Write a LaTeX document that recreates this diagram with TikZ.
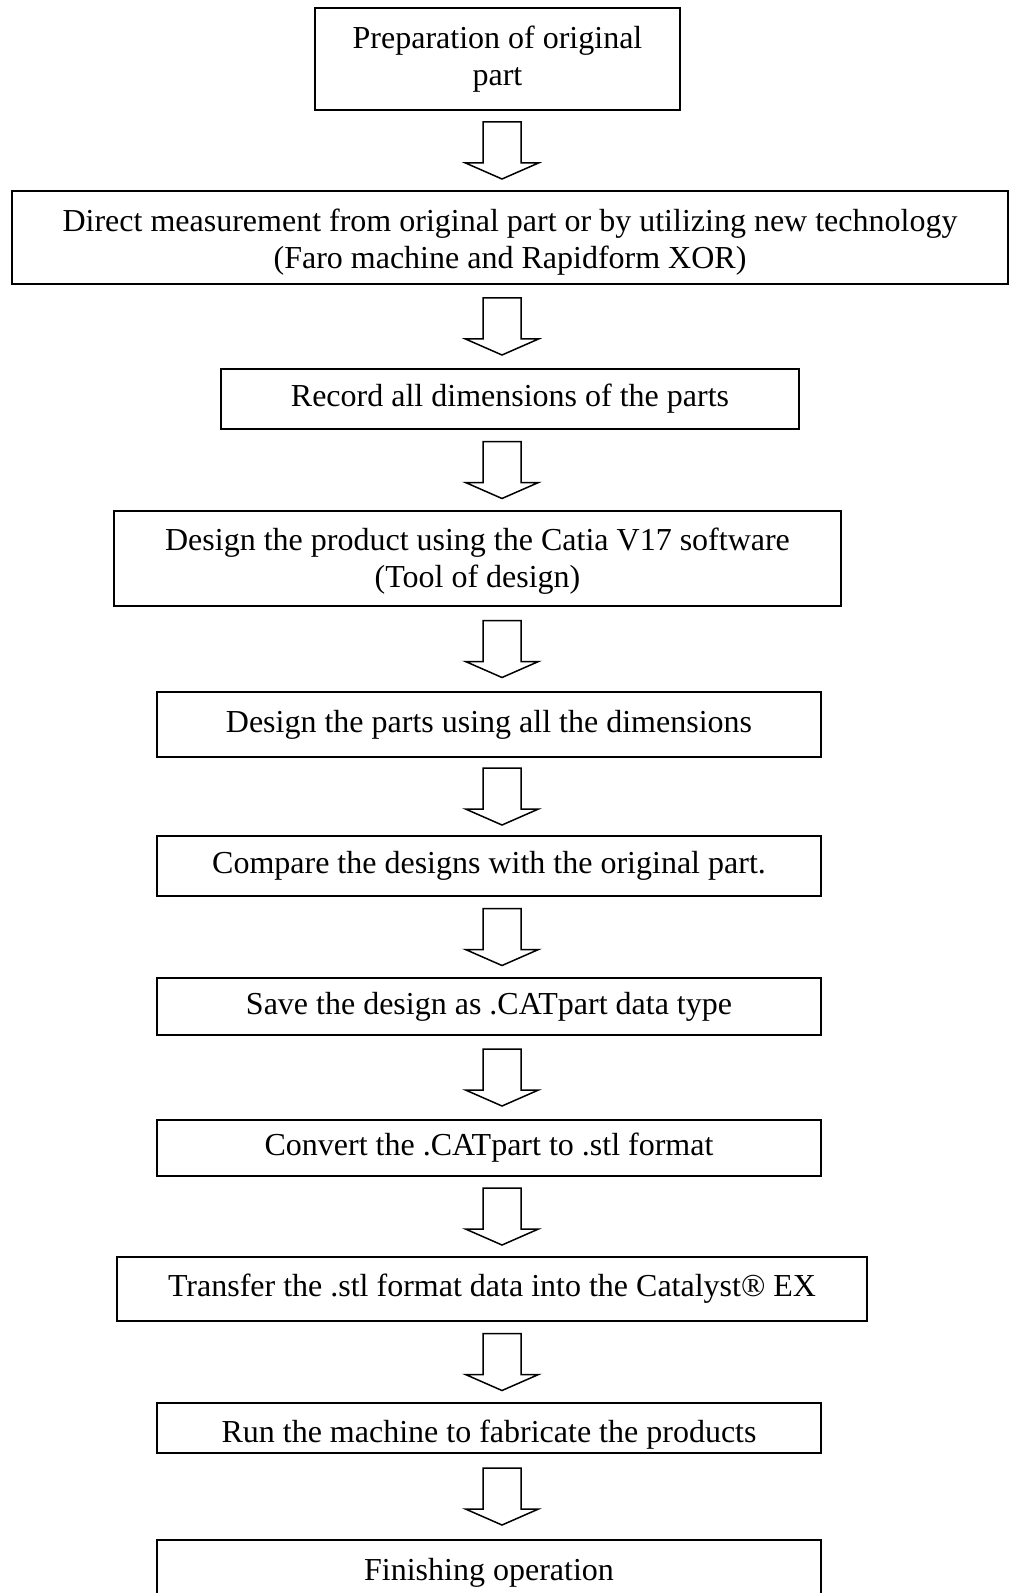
\documentclass[tikz,border=0pt]{standalone}
\usepackage{fontspec}
\setmainfont{Liberation Serif}
\usepackage{tikz}
\usetikzlibrary{calc}
\tikzset{
  stepbox/.style={draw, line width=0.8pt, inner sep=0pt, align=center,
    font=\fontsize{16pt}{18.5pt}\selectfont},
  blockarrow/.style={draw, line width=0.75pt, line join=miter}
}
\newcommand{\flowarrow}[2]{%
  \coordinate (m) at ($(ax |- #1.south)!0.5!(ax |- #2.north)$);
  \draw[blockarrow] ($(m)+(-19,-28.5)$) -- ++(0,41) -- ++(-17.5,0) -- ($(m)+(0,28.5)$)
    -- ++(36.5,-16) -- ++(-17.5,0) -- ++(0,-41) -- cycle;}

\begin{document}
\begin{tikzpicture}[x=0.5pt,y=-0.5pt]
\useasboundingbox (0,0) rectangle (1009,1593);
\coordinate (ax) at (502,0);
\node[stepbox, minimum width=182.5pt, minimum height=51pt] (prep) at (497.5,59)
  {Preparation of original\\part};
\node[stepbox, minimum width=498pt, minimum height=46.5pt] (meas) at (510,237.5)
  {\rule{0pt}{16pt}Direct measurement from original part or by utilizing new technology\\(Faro machine and Rapidform XOR)};
\node[stepbox, minimum width=289pt, minimum height=30pt] (rec) at (510,399)
  {Record all dimensions of the parts};
\node[stepbox, minimum width=363.5pt, minimum height=47.5pt] (prod) at (477.5,558.5)
  {\rule{0pt}{14pt}Design the product using the Catia V17 software\\(Tool of design)};
\node[stepbox, minimum width=332pt, minimum height=32.5pt] (parts) at (489,724.5)
  {Design the parts using all the dimensions};
\node[stepbox, minimum width=332pt, minimum height=30pt] (comp) at (489,866)
  {Compare the designs with the original part.};
\node[stepbox, minimum width=332pt, minimum height=28.5pt] (save) at (489,1006.5)
  {Save the design as .CATpart data type};
\node[stepbox, minimum width=332pt, minimum height=28pt] (conv) at (489,1148)
  {Convert the .CATpart to .stl format};
\node[stepbox, minimum width=375pt, minimum height=32pt] (trans) at (492,1289)
  {Transfer the .stl format data into the Catalyst® EX};
\node[stepbox, minimum width=332pt, minimum height=25pt, text height=14pt, text depth=0pt] (run) at (489,1428)
  {Run the machine to fabricate the products};
\node[stepbox, minimum width=332pt, minimum height=32.5pt] (fin) at (489,1572.5)
  {Finishing operation};
\flowarrow{prep}{meas}
\flowarrow{meas}{rec}
\flowarrow{rec}{prod}
\flowarrow{prod}{parts}
\flowarrow{parts}{comp}
\flowarrow{comp}{save}
\flowarrow{save}{conv}
\flowarrow{conv}{trans}
\flowarrow{trans}{run}
\flowarrow{run}{fin}
\end{tikzpicture}
\end{document}
